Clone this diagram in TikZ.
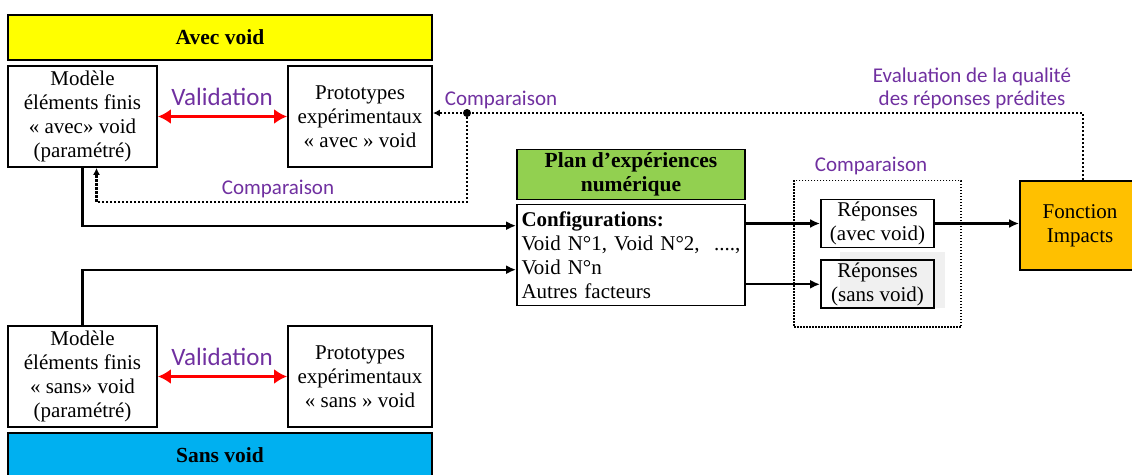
\documentclass[tikz,border=0pt]{standalone}
\usepackage{fontspec}
\setmainfont{Liberation Serif}
\newfontfamily\calibri{Carlito}
\usetikzlibrary{fit,positioning,arrows.meta}
\definecolor{avecyellow}{RGB}{255,255,0}
\definecolor{sansblue}{RGB}{0,176,240}
\definecolor{plangreen}{RGB}{146,208,80}
\definecolor{fonctorange}{RGB}{255,192,0}
\definecolor{validred}{RGB}{255,0,0}
\definecolor{notepurple}{RGB}{112,48,160}

\begin{document}
\begin{tikzpicture}[x=1pt,y=1pt]
\tikzstyle{bar}=[rectangle, minimum width=424pt, minimum height=45pt, line width=1.8pt, draw=black, align=center, font=\fontsize{21.5}{24}\selectfont\bfseries]
\tikzstyle{main}=[rectangle, minimum width=149pt, minimum height=101pt, line width=1.8pt, draw=black, align=center, inner sep=2pt, font=\fontsize{21}{24}\selectfont]
\tikzstyle{proto}=[main, minimum width=144pt]
\tikzstyle{reponse}=[main, minimum width=113pt, minimum height=48pt]
\tikzstyle{connect}=[-{Latex[length=10pt,width=9pt]}, line width=2.2pt]
\tikzstyle{compare}=[-{Latex[length=7pt,width=7pt]}, line width=2.2pt, dash pattern=on 2.2pt off 1.8pt]
\tikzstyle{valid}=[{Latex[length=13pt,width=15pt]}-{Latex[length=13pt,width=15pt]}, line width=3.5pt, draw=validred]
\tikzstyle{note}=[text=notepurple, align=center, font=\calibri\fontsize{21}{23}\selectfont]

  \useasboundingbox (0,0) rectangle (1132,-474);
  \fill[black!6] (840,-252) rectangle (945,-308);

  \node[bar, fill=avecyellow] (avecbar) at (220,-37.5) {Avec void};
  \node[main] (modavec) [below right=4.2pt and 0pt of avecbar.south west] {Modèle\\éléments finis\\« avec» void\\(paramétré)};
  \node[proto] (protavec) [below left=4.2pt and 0pt of avecbar.south east] {Prototypes\\expérimentaux\\« avec » void};

  \node[bar, fill=sansblue] (sansbar) at (220,-455.5) {Sans void};
  \node[main] (modsans) [above right=4.2pt and 0pt of sansbar.north west] {Modèle\\éléments finis\\« sans» void\\(paramétré)};
  \node[proto] (protsans) [above left=4.2pt and 0pt of sansbar.north east] {Prototypes\\expérimentaux\\« sans » void};

  \node[bar, fill=plangreen, minimum width=228pt] (plan) at (631,-174.5) {Plan d’expériences\\numérique};
  \node[main, minimum width=228pt, text width=219pt, align=left] (config) [below=3.2pt of plan] {\textbf{Configurations:}\\Void N°1, Void N°2, \hfill ....,\\Void N°n\\Autres facteurs};

  \node[reponse] (repavec) at (877.5,-223.5) {Réponses\\(avec void)};
  \node[reponse] (repsans) [below=11pt of repavec] {Réponses\\(sans void)};
  \node[draw, line width=1.5pt, dash pattern=on 1.5pt off 1.5pt, inner xsep=26pt, inner ysep=18pt, fit=(repavec) (repsans)] (cmpbox) {};
  \node[main, fill=fonctorange, minimum width=120pt, minimum height=89pt] (fonction) at (1080,-225.5) {Fonction\\Impacts};

  \node[note, font=\calibri\fontsize{25}{28}\selectfont] (valavec) at (222,-97) {Validation};
  \node[note, font=\calibri\fontsize{25}{28}\selectfont] (valsans) at (222,-357) {Validation};
  \node[note] (cmphaut) at (501,-100) {Comparaison};
  \node[note] (cmpbas) at (278,-189) {Comparaison};
  \node[note] (cmpresp) at (871,-166) {Comparaison};
  \node[note] (evalq) at (972,-88) {Evaluation de la qualité\\des réponses prédites};

  \coordinate (evaltop) at (1083,-113);
  \coordinate (cmpdot) at (467,-113);
  \coordinate (cmpbot) at (467,-202);
  \coordinate (modavecin) at ([xshift=14pt]modavec.south);
  \coordinate (cfgavec) at ([yshift=-22pt]config.north west);
  \coordinate (cfgsans) at ([yshift=-66pt]config.north west);

  \draw[valid] (modavec) -- (protavec);
  \draw[valid] (modsans) -- (protsans);
  \draw[compare] (fonction.north -| evaltop) -- (evaltop) -- (protavec.east |- evaltop);
  \fill (cmpdot) circle (4pt);
  \draw[compare] (cmpdot) -- (cmpbot) -- (modavecin |- cmpbot) -- (modavecin);
  \draw[connect] (modavec.south) |- (cfgavec);
  \draw[connect] (modsans.north) |- (cfgsans);
  \draw[connect] (config.east |- repavec.west) -- (repavec.west);
  \draw[connect] (config.east |- repsans.west) -- (repsans.west);
  \draw[connect] (repavec.east) -- (repavec.east -| fonction.west);
\end{tikzpicture}
\end{document}
